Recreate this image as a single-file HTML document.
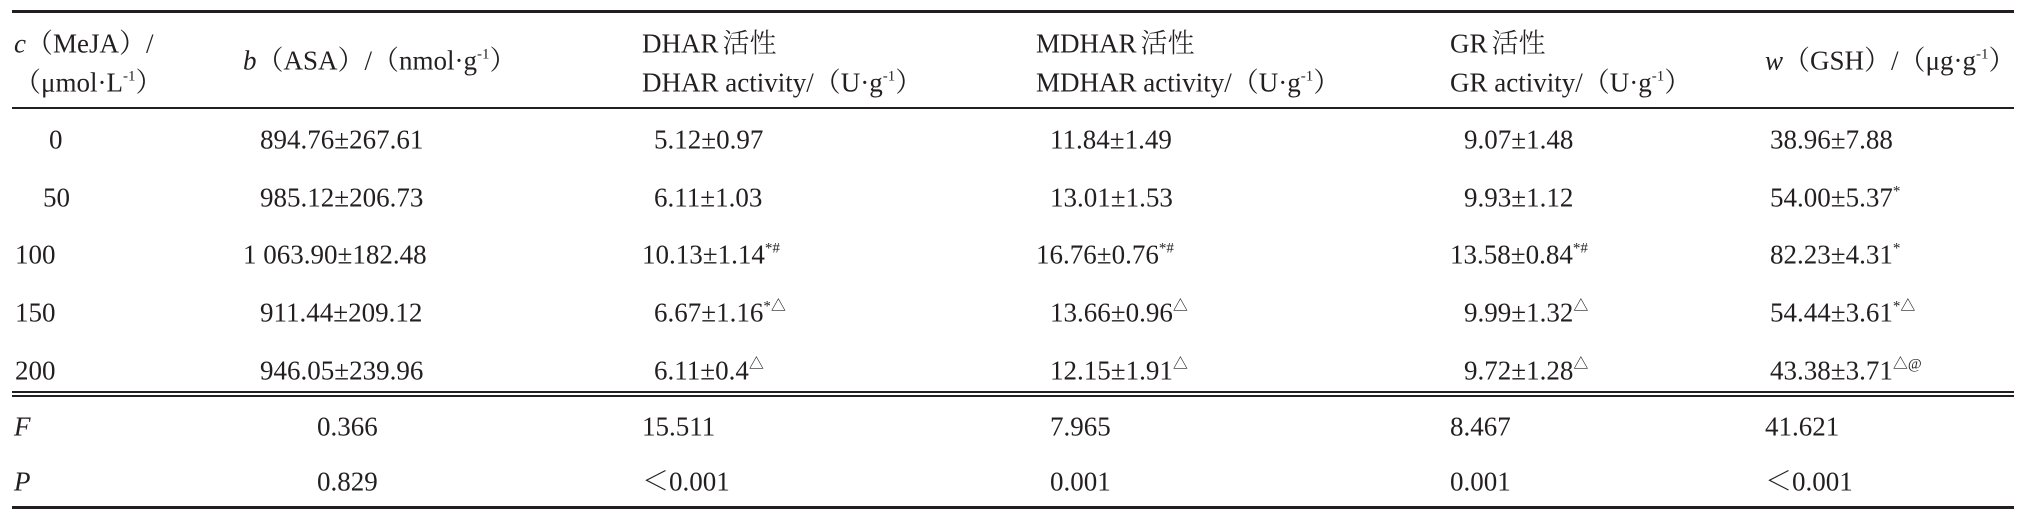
<!DOCTYPE html>
<html><head><meta charset="utf-8"><style>
body{margin:0;width:2026px;height:519px;background:#fff;position:relative;overflow:hidden;font-family:"Liberation Serif","Noto Serif CJK SC",serif;color:#231f20;font-size:27px}
.t{position:absolute;white-space:nowrap;line-height:1;transform:translateY(-50%)}
.l{position:absolute;left:12px;width:2002px;background:#231f20}
sup{font-size:15px;vertical-align:0;position:relative;top:-11px}
i{font-style:italic}
.c{font-weight:300;margin-left:4px}
</style></head><body>
<div class="l" style="top:10px;height:3px"></div>
<div class="l" style="top:107px;height:2px"></div>
<div class="l" style="top:391px;height:1.5px"></div>
<div class="l" style="top:395px;height:1.5px"></div>
<div class="l" style="top:506px;height:3px"></div>

<div class="t" style="left:14px;top:44px"><i>c</i>（MeJA）/</div>
<div class="t" style="left:14px;top:83px">（μmol·L<sup>-1</sup>）</div>
<div class="t" style="left:243px;top:61px"><i>b</i>（ASA）/（nmol·g<sup>-1</sup>）</div>
<div class="t" style="left:642px;top:44px">DHAR<span class="c">活性</span></div>
<div class="t" style="left:642px;top:83px">DHAR activity/（U·g<sup>-1</sup>）</div>
<div class="t" style="left:1036px;top:44px">MDHAR<span class="c">活性</span></div>
<div class="t" style="left:1036px;top:83px">MDHAR activity/（U·g<sup>-1</sup>）</div>
<div class="t" style="left:1450px;top:44px">GR<span class="c">活性</span></div>
<div class="t" style="left:1450px;top:83px">GR activity/（U·g<sup>-1</sup>）</div>
<div class="t" style="left:1765px;top:61px"><i>w</i>（GSH）/（μg·g<sup>-1</sup>）</div>

<div class="t" style="left:49px;top:140px">0</div>
<div class="t" style="left:260px;top:140px">894.76±267.61</div>
<div class="t" style="left:654px;top:140px">5.12±0.97</div>
<div class="t" style="left:1050px;top:140px">11.84±1.49</div>
<div class="t" style="left:1464px;top:140px">9.07±1.48</div>
<div class="t" style="left:1770px;top:140px">38.96±7.88</div>

<div class="t" style="left:43px;top:198px">50</div>
<div class="t" style="left:260px;top:198px">985.12±206.73</div>
<div class="t" style="left:654px;top:198px">6.11±1.03</div>
<div class="t" style="left:1050px;top:198px">13.01±1.53</div>
<div class="t" style="left:1464px;top:198px">9.93±1.12</div>
<div class="t" style="left:1770px;top:198px">54.00±5.37<sup>*</sup></div>

<div class="t" style="left:15px;top:255px">100</div>
<div class="t" style="left:243px;top:255px">1 063.90±182.48</div>
<div class="t" style="left:642px;top:255px">10.13±1.14<sup>*#</sup></div>
<div class="t" style="left:1036px;top:255px">16.76±0.76<sup>*#</sup></div>
<div class="t" style="left:1450px;top:255px">13.58±0.84<sup>*#</sup></div>
<div class="t" style="left:1770px;top:255px">82.23±4.31<sup>*</sup></div>

<div class="t" style="left:15px;top:313px">150</div>
<div class="t" style="left:260px;top:313px">911.44±209.12</div>
<div class="t" style="left:654px;top:313px">6.67±1.16<sup>*△</sup></div>
<div class="t" style="left:1050px;top:313px">13.66±0.96<sup>△</sup></div>
<div class="t" style="left:1464px;top:313px">9.99±1.32<sup>△</sup></div>
<div class="t" style="left:1770px;top:313px">54.44±3.61<sup>*△</sup></div>

<div class="t" style="left:15px;top:371px">200</div>
<div class="t" style="left:260px;top:371px">946.05±239.96</div>
<div class="t" style="left:654px;top:371px">6.11±0.4<sup>△</sup></div>
<div class="t" style="left:1050px;top:371px">12.15±1.91<sup>△</sup></div>
<div class="t" style="left:1464px;top:371px">9.72±1.28<sup>△</sup></div>
<div class="t" style="left:1770px;top:371px">43.38±3.71<sup>△@</sup></div>

<div class="t" style="left:14px;top:427px"><i>F</i></div>
<div class="t" style="left:317px;top:427px">0.366</div>
<div class="t" style="left:642px;top:427px">15.511</div>
<div class="t" style="left:1050px;top:427px">7.965</div>
<div class="t" style="left:1450px;top:427px">8.467</div>
<div class="t" style="left:1765px;top:427px">41.621</div>

<div class="t" style="left:14px;top:482px"><i>P</i></div>
<div class="t" style="left:317px;top:482px">0.829</div>
<div class="t" style="left:642px;top:482px">＜0.001</div>
<div class="t" style="left:1050px;top:482px">0.001</div>
<div class="t" style="left:1450px;top:482px">0.001</div>
<div class="t" style="left:1765px;top:482px">＜0.001</div>
</body></html>
